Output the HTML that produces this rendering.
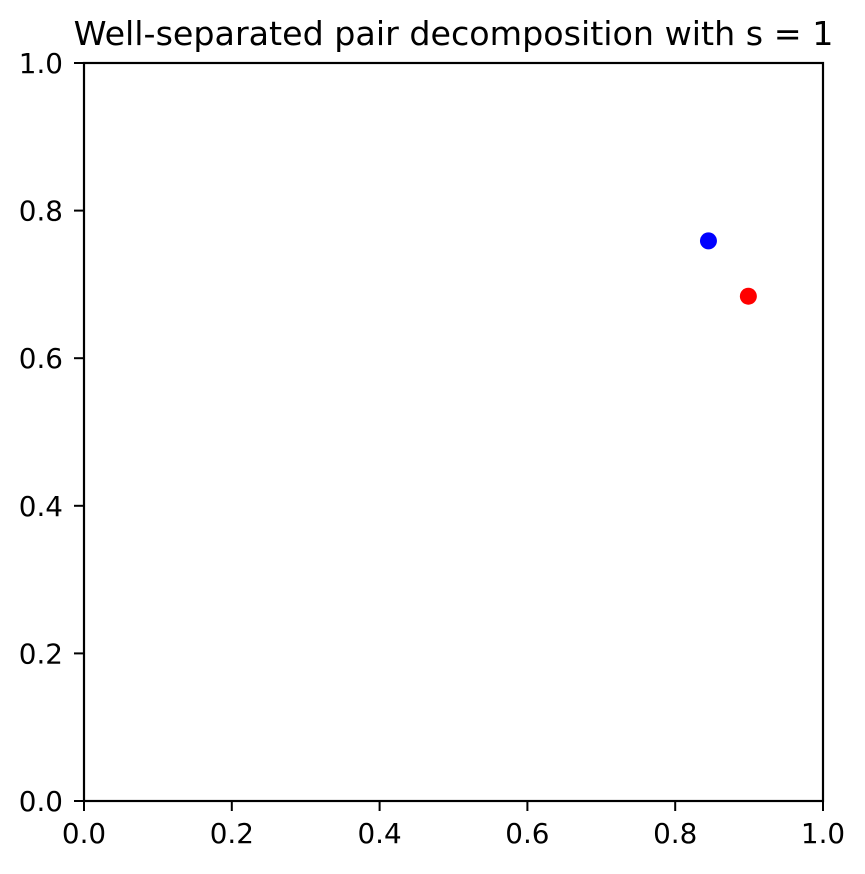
<!DOCTYPE html>
<html><head><meta charset="utf-8"><style>
body{margin:0;background:#fff}
svg text{font-family:"DejaVu Sans","Liberation Sans",sans-serif;fill:#000}
</style></head><body>
<svg id="chart" width="865" height="869">
<text x="453.5" y="45" font-size="33.3" text-anchor="middle">Well-separated pair decomposition with s = 1</text>
<g id="ticks"></g>
<g id="points"></g>
<rect x="84" y="63" width="739" height="738" fill="none" stroke="#000" stroke-width="2.2"/>
</svg>
<script>
const xTicks=[0,0.2,0.4,0.6,0.8,1.0];
const yTicks=[0,0.2,0.4,0.6,0.8,1.0];
const tickLabels=["0.0","0.2","0.4","0.6","0.8","1.0"];
const pointX=[0.845,0.899];
const pointY=[0.759,0.684];
const pointColors=["#0000ff","#ff0000"];
const pointNames=["blue-point","red-point"];
const L=84,R=823,T=63,B=801;
const sx=v=>L+v*(R-L), sy=v=>B-v*(B-T);
const NS="http://www.w3.org/2000/svg";
const tg=document.getElementById('ticks'), pg=document.getElementById('points');
function mk(tag,attrs,parent){const e=document.createElementNS(NS,tag);for(const k in attrs)e.setAttribute(k,attrs[k]);parent.appendChild(e);return e;}
xTicks.forEach((v,i)=>{
 const l=mk('line',{x1:sx(v),x2:sx(v),y1:B,y2:B+10,stroke:'#000','stroke-width':2},tg);
 
 
 const t=mk('text',{x:sx(v),y:B+42,'font-size':27.8,'text-anchor':'middle'},tg);t.textContent=tickLabels[i];
 
 
});
yTicks.forEach((v,i)=>{
 const l=mk('line',{x1:L-10,x2:L,y1:sy(v),y2:sy(v),stroke:'#000','stroke-width':2},tg);
 
 
 const t=mk('text',{x:L-21,y:sy(v)+10,'font-size':27.8,'text-anchor':'end'},tg);t.textContent=tickLabels[i];
 
 
});
pointX.forEach((v,i)=>{
 const c=mk('circle',{cx:sx(v),cy:sy(pointY[i]),r:8.5,fill:pointColors[i]},pg);
 
 
});
</script>
</body></html>
